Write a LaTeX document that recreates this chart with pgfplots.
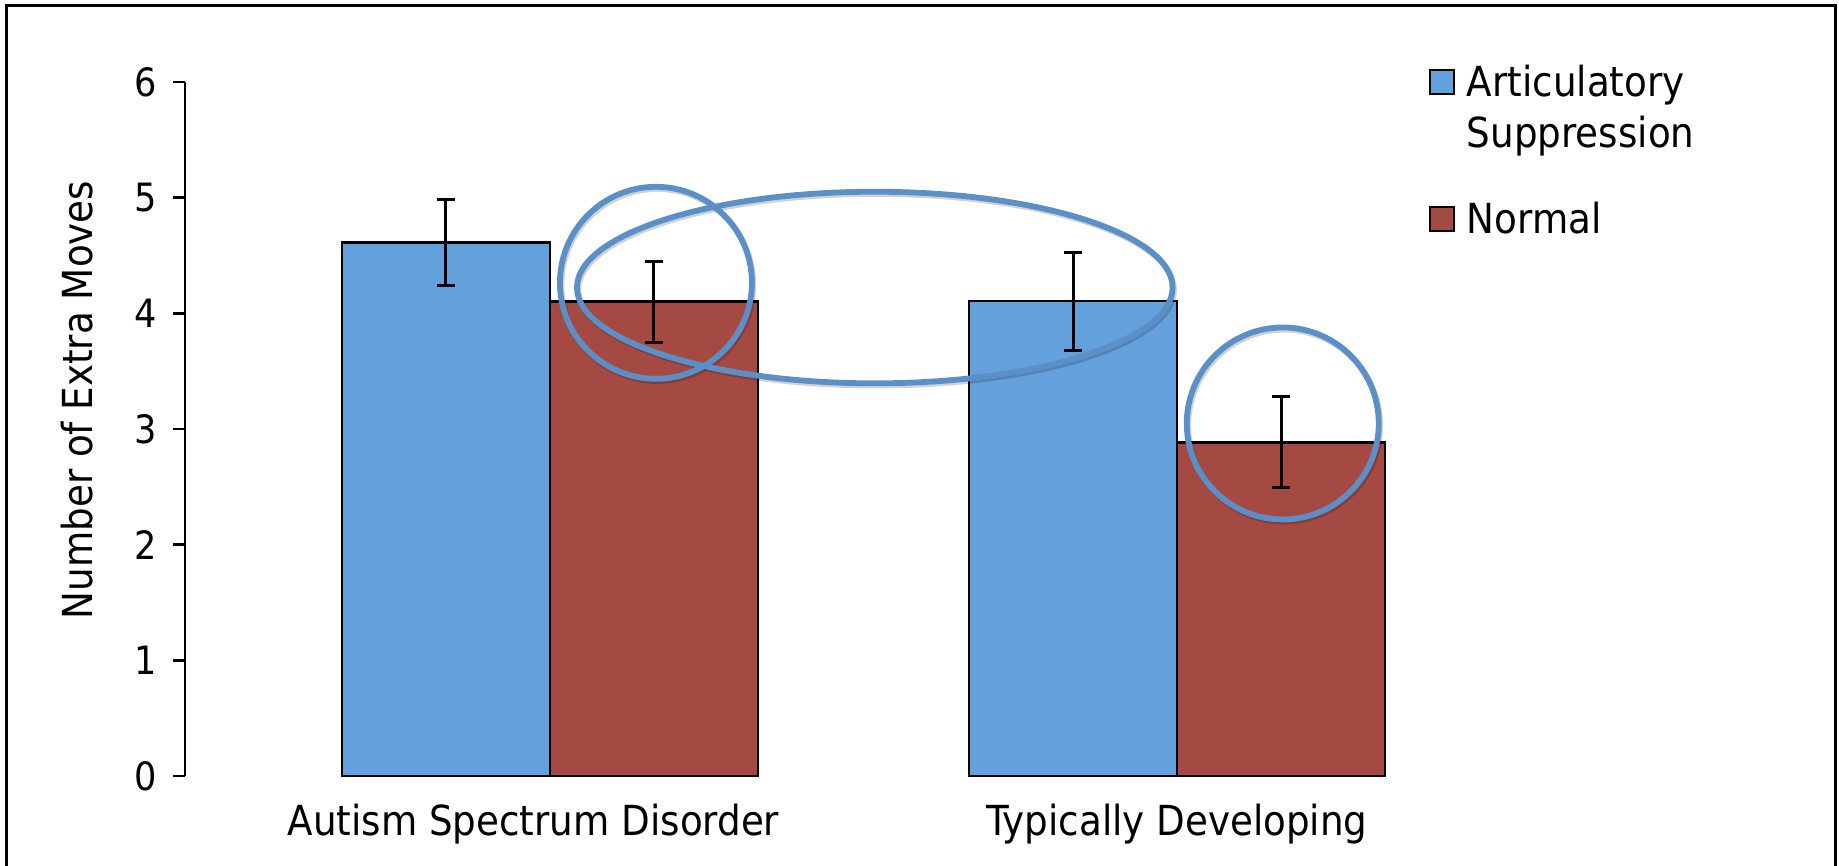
\documentclass[border=0pt]{standalone}
\usepackage{fontspec}
\setmainfont{DejaVu Sans Condensed}
\usepackage{pgfplots}
\usepackage{pgfplotstable}
\pgfplotsset{compat=1.18}
\definecolor{barblue}{HTML}{64A0DC}
\definecolor{barred}{HTML}{A54A42}
\definecolor{ringblue}{HTML}{5A8FC7}
\pgfplotstableread{
x y e
0 4.61 0.37
1 4.105 0.425
}\asdata
\pgfplotstableread{
x y e
0 4.10 0.35
1 2.885 0.395
}\normaldata
\begin{document}
\begin{tikzpicture}
\useasboundingbox (0,0) rectangle (919.5pt,433pt);
\draw[line width=1.5pt] (3.3pt,-20pt) -- (3.3pt,430.2pt) -- (917.5pt,430.2pt) -- (917.5pt,-20pt);
\begin{axis}[
  at={(92.5pt,45pt)}, anchor=south west,
  scale only axis, width=678.5pt, height=347pt,
  xmin=-0.582, xmax=1.582, ymin=0, ymax=6,
  clip=false,
  ybar=0pt, bar width=104pt,
  axis x line*=bottom, axis y line*=left,
  x axis line style={draw=none},
  y axis line style={-, line width=1.4pt, black},
  xtick={0,1},
  xticklabels={Autism Spectrum Disorder\hspace*{16.5pt}, Typically Developing},
  xtick style={draw=none},
  ytick={0,1,2,3,4,5,6},
  ytick style={line width=1.4pt, black},
  tick align=outside,
  major tick length=6pt,
  /pgf/number format/assume math mode=true,
  yticklabel style={font=\fontsize{19.5}{23}\selectfont, anchor=east, inner sep=0pt, xshift=-8pt},
  xticklabel style={font=\fontsize{20.7}{25}\selectfont, anchor=base, inner sep=0pt, yshift=-23.5pt},
  every axis y label/.style={at={(axis description cs:-0.0685,0.5418)}, rotate=90, anchor=base, inner sep=0pt},
  ylabel={Number of Extra Moves},
  ylabel style={font=\fontsize{20.7}{25}\selectfont},
  legend image code/.code={\draw[#1,line width=1pt] (0pt,1.5pt) rectangle (12pt,13.5pt);},
  legend style={at={(axis description cs:0.9167,1.0298)}, anchor=north west,
    draw=none, fill=none, inner sep=0pt, outer sep=0pt,
    row sep=51.2pt, column sep=6pt,
    nodes={inner sep=0pt, anchor=base west},
    font=\fontsize{20.7}{25.3}\selectfont},
  legend cell align=left,
]
\addplot[fill=barblue, draw=black, line width=1.3pt,
  error bars/.cd, y dir=both, y explicit,
  error bar style={line width=1.5pt, black},
  error mark options={rotate=90, mark size=4.4pt, line width=1.5pt, black}]
  table[x=x, y=y, y error=e] {\asdata};
\addplot[fill=barred, draw=black, line width=1.3pt,
  error bars/.cd, y dir=both, y explicit,
  error bar style={line width=1.5pt, black},
  error mark options={rotate=90, mark size=4.4pt, line width=1.5pt, black}]
  table[x=x, y=y, y error=e] {\normaldata};
\addlegendentry{\begin{tabular}[t]{@{}l@{}}Articulatory\\Suppression\end{tabular}}
\addlegendentry{Normal}
% annotation rings
\begin{scope}[line width=2.9pt]
\draw[black, opacity=0.18, shift={(0.7pt,-1.1pt)}] (axis cs:0.169,4.264) circle [radius=48pt];
\draw[black, opacity=0.18, shift={(0.7pt,-1.1pt)}] (axis cs:0.518,4.223) ellipse [x radius=148.9pt, y radius=47.9pt];
\draw[black, opacity=0.18, shift={(0.7pt,-1.1pt)}] (axis cs:1.1686,3.048) circle [radius=48pt];
\draw[ringblue] (axis cs:0.169,4.264) circle [radius=48pt];
\draw[ringblue] (axis cs:0.518,4.223) ellipse [x radius=148.9pt, y radius=47.9pt];
\draw[ringblue] (axis cs:1.1686,3.048) circle [radius=48pt];
\end{scope}
\end{axis}
\end{tikzpicture}
\end{document}
